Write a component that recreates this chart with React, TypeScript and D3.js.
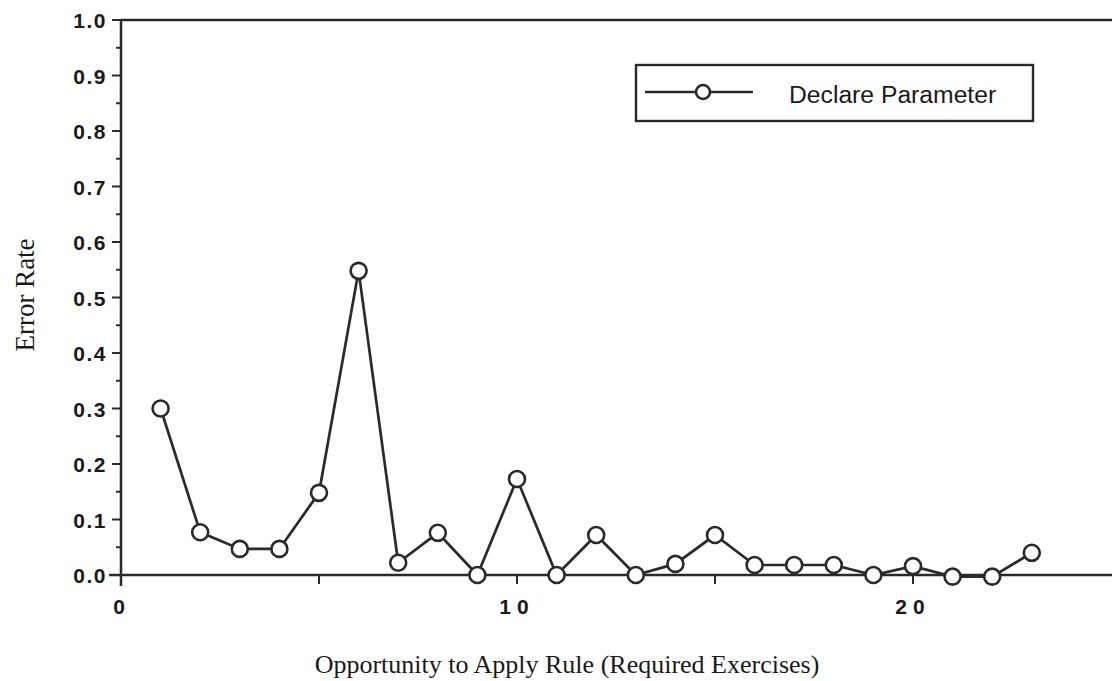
import React from "react";
import * as d3 from "d3";

const opportunities = [1,2,3,4,5,6,7,8,9,10,11,12,13,14,15,16,17,18,19,20,21,22,23];
const errorRates = [0.30,0.077,0.047,0.047,0.148,0.548,0.022,0.076,0,0.173,0,0.072,0,0.02,0.072,0.018,0.018,0.018,0,0.016,-0.003,-0.003,0.04];
const yTicks = [0,0.1,0.2,0.3,0.4,0.5,0.6,0.7,0.8,0.9,1.0];
const yMinor = [0.05,0.15,0.25,0.35,0.45,0.55,0.65,0.75,0.85,0.95];
const xTicksLabeled = [0,10,20];
const xTicksAll = [0,5,10,15,20];
const seriesName = "Declare Parameter";

export default function App() {
  const W = 1112, H = 681;
  const x = d3.scaleLinear().domain([0, 25]).range([121, 1111]);
  const y = d3.scaleLinear().domain([0, 1]).range([575, 20]);
  const line = d3.line<number>().x((_, i) => x(opportunities[i])).y((d) => y(d));
  const axisColor = "#2a2a2a";
  const sans = "'Liberation Sans', Arial, Helvetica, sans-serif";
  const serif = "'Liberation Serif', 'Times New Roman', serif";
  return (
    <svg width={W} height={H} style={{ position: "absolute", left: 0, top: 0, background: "#fff" }}>
      {/* top border */}
      <line x1={x(0)} x2={W} y1={y(1)} y2={y(1)} stroke={axisColor} strokeWidth={2.5} />
      {/* y axis */}
      <line x1={x(0)} x2={x(0)} y1={y(1)} y2={y(0) + 11} stroke={axisColor} strokeWidth={2.5} />
      {/* x axis */}
      <line x1={x(0) - 12} x2={W} y1={y(0)} y2={y(0)} stroke={axisColor} strokeWidth={2.5} />
      {yTicks.map((t) => (
        <g key={"yt" + t}>
          <line x1={x(0) - 9} x2={x(0)} y1={y(t)} y2={y(t)} stroke={axisColor} strokeWidth={2} />
          <text x={107} y={y(t) + 8} textAnchor="end" fontFamily={sans} fontWeight="bold" fontSize={21} letterSpacing={1.5} fill="#1a1a1a">
            {t.toFixed(1)}
          </text>
        </g>
      ))}
      {yMinor.map((t) => (
        <line key={"ym" + t} x1={x(0) - 5} x2={x(0)} y1={y(t)} y2={y(t)} stroke={axisColor} strokeWidth={2} />
      ))}
      {xTicksAll.map((t) => (
        <line key={"xt" + t} x1={x(t)} x2={x(t)} y1={y(0)} y2={y(0) + 9} stroke={axisColor} strokeWidth={2} />
      ))}
      {xTicksLabeled.map((t) => (
        <text key={"xl" + t} x={x(t) + (t === 0 ? -2 : 0)} y={614} textAnchor="middle" fontFamily={sans} fontWeight="bold" fontSize={21} letterSpacing={t === 0 ? 0 : 6} fill="#1a1a1a">
          {String(t)}
        </text>
      ))}
      {/* series */}
      <path d={line(errorRates) || ""} fill="none" stroke="#2a2a2a" strokeWidth={2.7} />
      {errorRates.map((v, i) => (
        <circle key={"p" + i} cx={x(opportunities[i])} cy={y(v)} r={8} fill="#fff" stroke="#2a2a2a" strokeWidth={2.6} />
      ))}
      {/* legend */}
      <rect x={636} y={65} width={397} height={56} fill="#fff" stroke="#2a2a2a" strokeWidth={2.4} />
      <line x1={645} x2={753} y1={92} y2={92} stroke="#2a2a2a" strokeWidth={2.6} />
      <circle cx={703} cy={92} r={7} fill="#fff" stroke="#2a2a2a" strokeWidth={2.6} />
      <text x={789} y={103} fontFamily={sans} fontSize={24.7} fill="#1a1a1a">{seriesName}</text>
      {/* axis titles */}
      <text transform="translate(34,295) rotate(-90)" textAnchor="middle" fontFamily={serif} fontSize={27} fill="#1a1a1a">Error Rate</text>
      <text x={567} y={673} textAnchor="middle" fontFamily={serif} fontSize={26} fill="#1a1a1a">Opportunity to Apply Rule (Required Exercises)</text>
    </svg>
  );
}
